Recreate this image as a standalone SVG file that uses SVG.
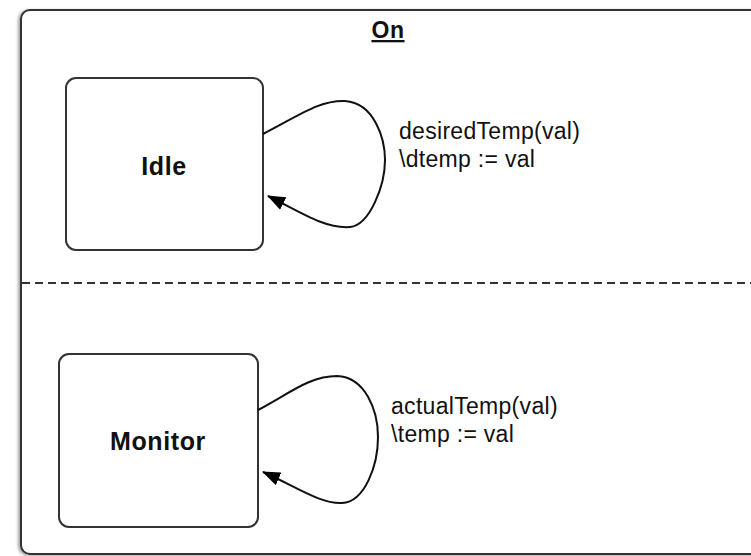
<svg xmlns="http://www.w3.org/2000/svg" width="751" height="556" viewBox="0 0 751 556">
<defs>
<style>
.box{fill:#fff;stroke:#333;stroke-width:2}
.edge{fill:none;stroke:#111;stroke-width:2}
.name{font-family:"Liberation Sans",Arial,sans-serif;font-weight:bold;font-size:25px;letter-spacing:0.6px;fill:#111}
.lbl{font-family:"Liberation Sans",Arial,sans-serif;font-size:23px;letter-spacing:0.3px;fill:#111}
</style>
<marker id="arr" markerWidth="18" markerHeight="14" refX="17" refY="7" orient="auto" markerUnits="userSpaceOnUse" viewBox="0 0 18 14">
<path d="M0,0 L18,7 L0,14 z" fill="#000"/>
</marker>
<filter id="sh" x="-5%" y="-5%" width="110%" height="110%">
<feDropShadow dx="-2" dy="1" stdDeviation="1.5" flood-color="#000" flood-opacity="0.35"/>
</filter>
</defs>
<g id="On">
<rect x="21" y="10" width="760" height="544" rx="9" class="box" filter="url(#sh)"/>
<text x="388" y="38" class="name" text-anchor="middle" text-decoration="underline" style="font-size:23px">On</text>
<line x1="22" y1="283" x2="751" y2="283" stroke="#333" stroke-width="2" stroke-dasharray="8 5"/>
</g>
<g id="Idle">
<rect x="66" y="78" width="197" height="172" rx="10" class="box"/>
<text x="164" y="175" class="name" text-anchor="middle">Idle</text>
</g>
<g id="Monitor">
<rect x="59" y="354" width="199" height="173" rx="10" class="box"/>
<text x="158" y="450" class="name" text-anchor="middle">Monitor</text>
</g>
<g id="connectors">
<path class="edge" d="M263,134 C300,115 320,100 345,101 C375,103 385,140 385,160 C385,185 370,225 350,227 C325,229 300,212 268,196" marker-end="url(#arr)"/>
<path class="edge" d="M258,410 C290,393 310,376 337,376 C365,377 378,410 378,437 C378,465 365,502 342,503 C320,504 295,486 263,472" marker-end="url(#arr)"/>
<text x="399" y="139" class="lbl">desiredTemp(val)</text>
<text x="399" y="167" class="lbl">\dtemp := val</text>
<text x="391" y="414" class="lbl">actualTemp(val)</text>
<text x="391" y="442" class="lbl">\temp := val</text>
</g>
</svg>
